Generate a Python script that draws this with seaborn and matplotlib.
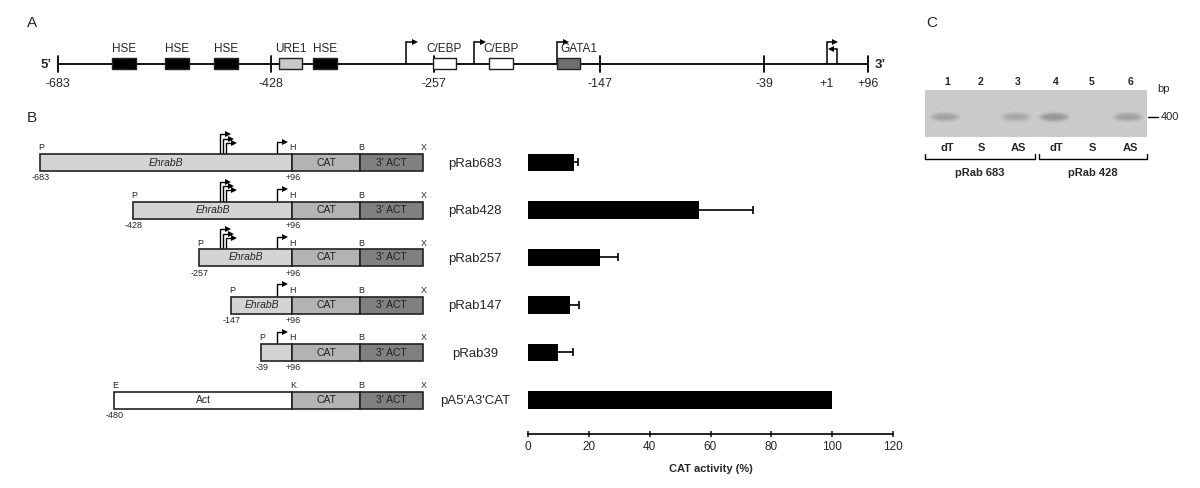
import matplotlib
matplotlib.use('Agg')
import numpy as np
import matplotlib.pyplot as plt
import seaborn as sns
from matplotlib.patches import Rectangle, Ellipse

sns.set_theme(style='white')
plt.rcParams['font.family'] = ['Liberation Sans', 'DejaVu Sans']

# ---- data ----
# panel A: promoter map of EhrabB
map_labels = ['-683', '-428', '-257', '-147', '-39', '+1', '+96']
element_names = ['HSE', 'HSE', 'HSE', 'URE1', 'HSE', 'C/EBP', 'C/EBP', 'GATA1']

# panel B: constructs and CAT activity
construct_names = ['pRab683', 'pRab428', 'pRab257', 'pRab147', 'pRab39', "pA5'A3'CAT"]
construct_start = ['-683', '-428', '-257', '-147', '-39', '-480']
cat_activity = [15.0, 56.3, 23.8, 13.9, 9.9, 100.0]
cat_sd = [1.6, 17.6, 5.7, 3.0, 4.8, 0.0]

# panel C: RT-PCR gel
lane_numbers = ['1', '2', '3', '4', '5', '6']
primers = ['dT', 'S', 'AS', 'dT', 'S', 'AS']
band_intensity = [0.55, 0.0, 0.45, 0.75, 0.0, 0.55]
plasmids = ['pRab 683', 'pRab 428']

# ---- layout (pixel positions of the schematic) ----
map_tick_x = [58, 271, 434, 600, 764, 827, 868]
element_x = [(112, 136), (165, 189), (214, 238), (279, 302), (313, 337),
             (433, 456), (489, 513), (557, 580)]
element_fill = ['black', 'black', 'black', '#c8c8c8', 'black', 'white', 'white', '#6e6e6e']
row_y = [162.5, 210, 257.5, 305, 352.5, 400]
row_x0 = [40, 133, 199, 231, 261, 114]
lane_x = [947, 981, 1018, 1056, 1092, 1130]

fig = plt.figure(figsize=(12, 4.88), dpi=100)
ax = fig.add_axes([0, 0, 1, 1])
ax.set_xlim(0, 1200)
ax.set_ylim(488, 0)
ax.axis('off')


def promoter(x, base, top, head, lw=1.1):
    d = 1 if head > x else -1
    ax.plot([x, x, head - d * 3], [base, top, top], color='black', lw=lw,
            solid_joinstyle='miter', solid_capstyle='butt')
    ax.plot(head - d * 3, top, marker='>' if d > 0 else '<', ms=4.5,
            color='black', mew=0)


# ---- panel A ----
ax.text(32, 23, 'A', fontsize=11, ha='center', va='center')
ly = 64
ax.plot([58, 868], [ly, ly], color='black', lw=1.3)
for x, lab in zip(map_tick_x, map_labels):
    if lab != '+1':
        ax.plot([x, x], [ly - 8, ly + 8], color='black', lw=1.3)
    ax.text(x, 84, lab, fontsize=9, ha='center', va='center')
ax.text(52, 65, '5’', fontsize=9.5, fontweight='bold', ha='right', va='center')
ax.text(875, 65, '3’', fontsize=9.5, fontweight='bold', ha='left', va='center')
for (x0, x1), name, fc in zip(element_x, element_names, element_fill):
    ax.add_patch(Rectangle((x0, 58), x1 - x0, 11, facecolor=fc, edgecolor='#222222', lw=1.0, zorder=3))
    if name == 'GATA1':
        ax.text(x0 + 3, 55, name, fontsize=8.5, ha='left', va='bottom')
    else:
        ax.text((x0 + x1) / 2, 55, name, fontsize=8.5, ha='center', va='bottom')
for x, h in [(406, 418), (474, 486), (557, 569), (827, 838)]:
    promoter(x, ly, 42, h)
promoter(837, ly, 49, 828)

# ---- panel B: constructs ----
ax.text(32, 118, 'B', fontsize=11, ha='center', va='center')
bh = 17
for i, (yc, x0, s) in enumerate(zip(row_y, row_x0, construct_start)):
    top, bot = yc - bh / 2, yc + bh / 2
    act = i == 5
    ax.add_patch(Rectangle((x0, top), 292 - x0, bh, facecolor='white' if act else '#d4d4d4',
                           edgecolor='#222222', lw=1.2, zorder=3))
    ax.add_patch(Rectangle((292, top), 68, bh, facecolor='#b3b3b3', edgecolor='#222222', lw=1.2, zorder=3))
    ax.add_patch(Rectangle((360, top), 63, bh, facecolor='#808080', edgecolor='#222222', lw=1.2, zorder=3))
    if act:
        ax.text((x0 + 292) / 2, yc, 'Act', fontsize=7.5, ha='center', va='center', zorder=4)
    elif i < 4:
        ax.text((x0 + 292) / 2, yc, 'EhrabB', fontsize=7.5, style='italic', ha='center', va='center', zorder=4)
    ax.text(326, yc, 'CAT', fontsize=7.5, ha='center', va='center', zorder=4, color='#222222')
    ax.text(391.5, yc, "3' ACT", fontsize=7.5, ha='center', va='center', zorder=4, color='#222222')
    for x, lab in zip([x0, 292, 360, 423], ['E' if act else 'P', 'K' if act else 'H', 'B', 'X']):
        ax.text(x + 1, top - 1.5, lab, fontsize=6.5, ha='center', va='bottom')
    ax.text(x0 + 1, bot + 2.5, s, fontsize=6.5, ha='center', va='top')
    if not act:
        ax.text(293, bot + 2.5, '+96', fontsize=6.5, ha='center', va='top')
    if i < 3:
        for x, dy, h in [(220, 20, 231), (222.7, 15.5, 234), (225.7, 11.5, 237)]:
            promoter(x, top, top - dy, h, lw=1.0)
    if i < 5:
        promoter(276.7, top, top - 12.5, 288, lw=1.0)

# ---- panel B: bar chart ----
ax_top, ax_bot = 138.75, 434
bax = fig.add_axes([528 / 1200, (488 - ax_bot) / 488, 365 / 1200, (ax_bot - ax_top) / 488])
sns.barplot(x=cat_activity, y=construct_names, orient='h', color='black', width=0.36,
            errorbar=None, saturation=1, edgecolor='black', linewidth=0, ax=bax)
_, caps, _ = bax.errorbar(cat_activity[:5], np.arange(5), xerr=[np.zeros(5), cat_sd[:5]], fmt='none',
                          ecolor='black', elinewidth=1.2, capsize=2.7, capthick=1.2)
caps[0].set_visible(False)  # one-sided error bars
bax.set_xlim(0, 120)
bax.set_ylim(5.716, -0.5)
bax.set_xticks(range(0, 121, 20))
sns.despine(ax=bax, left=True)
bax.spines['bottom'].set_linewidth(1.2)
bax.spines['bottom'].set_color('black')
bax.tick_params(axis='x', direction='inout', length=5, width=1.2, pad=2.5, labelsize=8.5, bottom=True)
bax.tick_params(axis='y', length=0, pad=38, labelsize=9.5)
for lbl in bax.get_yticklabels():
    lbl.set_ha('center')
bax.set_xlabel('CAT activity (%)', fontsize=8, fontweight='bold', labelpad=8)
bax.set_ylabel('')
bax.patch.set_alpha(0)

# ---- panel C: gel ----
ax.text(932, 23, 'C', fontsize=11, ha='center', va='center')
ax.add_patch(Rectangle((925, 90), 222, 47, facecolor='#cacaca', edgecolor='none'))
for x, inten in zip(lane_x, band_intensity):
    if inten <= 0:
        continue
    for w, hh, a in [(32, 11, 0.18), (27, 8, 0.25), (20, 5, 0.3)]:
        ax.add_patch(Ellipse((x - 2, 117), w, hh, facecolor='#606060', edgecolor='none', alpha=a * inten))
for x, n, p in zip(lane_x, lane_numbers, primers):
    ax.text(x, 82, n, fontsize=7.5, fontweight='bold', ha='center', va='center')
    ax.text(x, 148, p, fontsize=8, fontweight='bold', ha='center', va='center')
ax.text(1164, 89, 'bp', fontsize=8, ha='center', va='center')
ax.plot([1148, 1158], [117, 117], color='black', lw=1)
ax.text(1161, 116.5, '400', fontsize=8, ha='left', va='center')
for (x0, x1), p in zip([(925, 1035), (1039, 1147)], plasmids):
    ax.plot([x0, x0, x1, x1], [154, 159, 159, 154], color='black', lw=1)
    ax.text((x0 + x1) / 2, 173, p, fontsize=8, fontweight='bold', ha='center', va='center')

fig.savefig('out.png', dpi=100)
